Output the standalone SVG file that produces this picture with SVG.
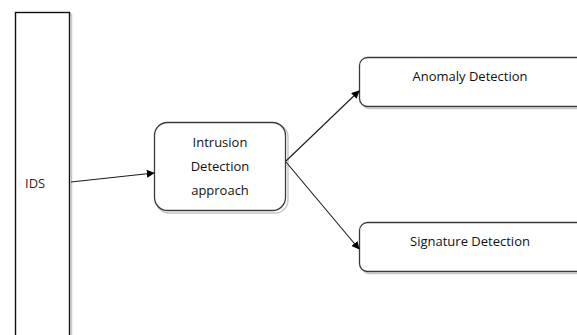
<svg xmlns="http://www.w3.org/2000/svg" width="577" height="335" viewBox="0 0 577 335">
  <defs>
    <marker id="arrow" viewBox="0 0 10 10" refX="9" refY="5" markerWidth="8" markerHeight="8" markerUnits="userSpaceOnUse" orient="auto">
      <path d="M0,0 L10,5 L0,10 z" fill="#000"/>
    </marker>
  </defs>
  <style>
    .box { fill: #fff; stroke: #3a3a3a; stroke-width: 1.3; }
    .shadow { fill: none; stroke: #c8c8c8; stroke-width: 1.5; }
    .label { font-family: "Open Sans", "Liberation Sans", sans-serif; font-size: 13px; fill: #111; text-anchor: middle; }
    .edge { stroke: #1a1a1a; stroke-width: 1.1; fill: none; marker-end: url(#arrow); }
  </style>
  <rect width="577" height="335" fill="#fff"/>

  <g id="ids">
    <rect x="17.5" y="14.5" width="54" height="330" class="shadow"/>
    <rect x="15.5" y="12.5" width="54" height="330" fill="#fff" stroke="#111" stroke-width="1.4"/>
    <text x="25" y="188" font-family="Open Sans, Liberation Sans, sans-serif" font-size="13" fill="#33261a">IDS</text>
  </g>

  <g id="approach">
    <rect x="156" y="124" width="132" height="89" rx="13" class="shadow"/>
    <rect x="154.5" y="122.5" width="131" height="88" rx="13" class="box"/>
    <text x="220" y="147" class="label">Intrusion</text>
    <text x="220" y="171" class="label">Detection</text>
    <text x="220" y="195" class="label">approach</text>
  </g>

  <g id="anomaly">
    <rect x="361.5" y="59.5" width="230" height="49" rx="8" class="shadow"/>
    <rect x="359.5" y="57.5" width="230" height="49" rx="8" class="box"/>
    <text x="470" y="81" class="label">Anomaly Detection</text>
  </g>

  <g id="signature">
    <rect x="361.5" y="224.5" width="230" height="49" rx="8" class="shadow"/>
    <rect x="359.5" y="222.5" width="230" height="49" rx="8" class="box"/>
    <text x="470" y="246" class="label">Signature Detection</text>
  </g>

  <g id="connectors">
    <line x1="71" y1="182" x2="154" y2="173" class="edge"/>
    <line x1="286" y1="161" x2="359" y2="91" class="edge"/>
    <line x1="286" y1="162" x2="359" y2="249" class="edge"/>
  </g>
</svg>
